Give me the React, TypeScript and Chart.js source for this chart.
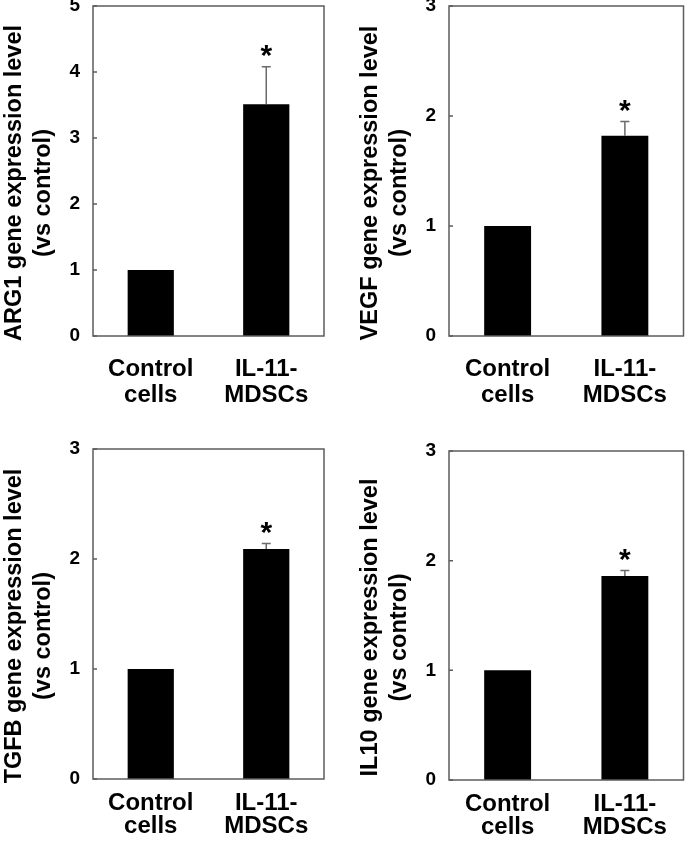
import React, { useEffect, useRef } from "react";
import { Chart, registerables } from "chart.js";

Chart.register(...registerables);

// ---- data ----
const categories = [["Control", "cells"], ["IL-11-", "MDSCs"]];

const arg1Values = [1.0, 3.51];
const arg1Errors = [0, 0.57];
const vegfValues = [1.0, 1.82];
const vegfErrors = [0, 0.13];
const tgfbValues = [1.0, 2.09];
const tgfbErrors = [0, 0.05];
const il10Values = [1.0, 1.86];
const il10Errors = [0, 0.05];

const significance = ["", "*"];

const arg1Title = ["ARG1 gene expression level", "(vs control)"];
const vegfTitle = ["VEGF gene expression level", "(vs control)"];
const tgfbTitle = ["TGFB gene expression level", "(vs control)"];
const il10Title = ["IL10 gene expression level", "(vs control)"];

const arg1Max = 5;
const otherMax = 3;

const FONT = "'Liberation Sans', Arial, Helvetica, sans-serif";

const decorPlugin = {
  id: "decor",
  afterDatasetsDraw(chart: any, _args: any, opts: any) {
    const { ctx, chartArea: ca } = chart;
    const y = chart.scales.y;
    const meta = chart.getDatasetMeta(0);
    const values = chart.data.datasets[0].data as number[];
    const errors: number[] = opts.errors || [];
    const marks: string[] = opts.marks || [];
    ctx.save();
    meta.data.forEach((bar: any, i: number) => {
      const v = values[i];
      const e = errors[i] || 0;
      const yBar = y.getPixelForValue(v);
      const yTop = y.getPixelForValue(v + e);
      if (e > 0) {
        ctx.strokeStyle = "#6a6a6a";
        ctx.lineWidth = 1.5;
        ctx.beginPath();
        ctx.moveTo(bar.x, yBar);
        ctx.lineTo(bar.x, yTop);
        ctx.moveTo(bar.x - 4.5, yTop);
        ctx.lineTo(bar.x + 4.5, yTop);
        ctx.stroke();
      }
      if (marks[i]) {
        ctx.fillStyle = "#000";
        ctx.font = `bold 30px ${FONT}`;
        ctx.textAlign = "center";
        ctx.textBaseline = "alphabetic";
        const m = ctx.measureText(marks[i]);
        const asc = m.actualBoundingBoxAscent || 0;
        const desc = m.actualBoundingBoxDescent || 0;
        const cy = yTop - 16;
        ctx.fillText(marks[i], bar.x, cy + (asc - desc) / 2);
      }
    });
    // box
    ctx.strokeStyle = "#5c5c5c";
    ctx.lineWidth = 1.5;
    ctx.strokeRect(ca.left, ca.top, ca.right - ca.left, ca.bottom - ca.top);
    // inward ticks
    ctx.beginPath();
    y.ticks.forEach((t: any) => {
      const py = y.getPixelForValue(t.value);
      ctx.moveTo(ca.left, py);
      ctx.lineTo(ca.left + 4, py);
    });
    ctx.stroke();
    // y title
    const title: string[] = opts.title || [];
    ctx.fillStyle = "#000";
    ctx.font = `bold 23.5px ${FONT}`;
    ctx.textAlign = "center";
    ctx.textBaseline = "middle";
    const cyMid = (ca.top + ca.bottom) / 2;
    const xs = [ca.left - 78, ca.left - 49];
    const dys = [12, 22];
    title.forEach((line, i) => {
      ctx.save();
      ctx.translate(xs[i], cyMid + dys[i]);
      ctx.rotate(-Math.PI / 2);
      ctx.fillText(line, 0, 0);
      ctx.restore();
    });
    ctx.restore();
  },
};

type Spec = {
  x: number;
  y: number;
  w: number;
  h: number;
  plotLeft: number;
  plotTop: number;
  plotRight: number;
  plotBottom: number;
  values: number[];
  errors: number[];
  title: string[];
  yMax: number;
  labelPad: number;
  labelLineHeight: number;
};

function Panel({ spec }: { spec: Spec }) {
  const ref = useRef<HTMLCanvasElement | null>(null);
  useEffect(() => {
    if (!ref.current) return;
    const chart = new Chart(ref.current, {
      type: "bar",
      data: {
        labels: categories,
        datasets: [
          {
            data: spec.values,
            backgroundColor: "#000",
            borderWidth: 0,
            barPercentage: 0.4,
            categoryPercentage: 1,
          },
        ],
      },
      options: {
        responsive: false,
        maintainAspectRatio: false,
        devicePixelRatio: 1,
        animation: false,
        layout: {
          padding: {
            left: 0,
            top: spec.plotTop,
            right: spec.w - spec.plotRight,
            bottom: 0,
          },
        },
        plugins: {
          legend: { display: false },
          tooltip: { enabled: false },
          decor: { errors: spec.errors, marks: significance, title: spec.title },
        } as any,
        scales: {
          x: {
            grid: { display: false, drawTicks: false },
            border: { display: false },
            ticks: {
              color: "#000",
              padding: spec.labelPad,
              maxRotation: 0,
              autoSkip: false,
              font: { family: FONT, size: 24, weight: "bold", lineHeight: spec.labelLineHeight },
            },
            afterFit: (s: any) => {
              s.height = spec.h - spec.plotBottom;
              s.paddingLeft = 0;
              s.paddingRight = 0;
            },
          },
          y: {
            min: 0,
            max: spec.yMax,
            grid: { display: false, drawTicks: false },
            border: { display: false },
            ticks: {
              stepSize: 1,
              color: "#000",
              padding: 13,
              font: { family: FONT, size: 19, weight: "bold" },
            },
            afterFit: (s: any) => {
              s.width = spec.plotLeft;
              s.paddingTop = 0;
              s.paddingBottom = 0;
            },
          },
        },
      },
      plugins: [decorPlugin],
    } as any);
    return () => chart.destroy();
  }, []);
  return (
    <div style={{ position: "absolute", left: spec.x, top: spec.y, width: spec.w, height: spec.h }}>
      <canvas
        ref={ref}
        width={spec.w}
        height={spec.h}
        style={{ display: "block", width: spec.w, height: spec.h }}
      />
    </div>
  );
}

const panels: Spec[] = [
  {
    x: 0, y: 0, w: 342, h: 420,
    plotLeft: 93, plotTop: 6, plotRight: 324, plotBottom: 336,
    values: arg1Values, errors: arg1Errors, title: arg1Title, yMax: arg1Max,
    labelPad: 20, labelLineHeight: 26 / 24,
  },
  {
    x: 342, y: 0, w: 343, h: 420,
    plotLeft: 107, plotTop: 6, plotRight: 341.5, plotBottom: 336,
    values: vegfValues, errors: vegfErrors, title: vegfTitle, yMax: otherMax,
    labelPad: 20, labelLineHeight: 26 / 24,
  },
  {
    x: 0, y: 420, w: 342, h: 423,
    plotLeft: 93, plotTop: 29, plotRight: 324, plotBottom: 359,
    values: tgfbValues, errors: tgfbErrors, title: tgfbTitle, yMax: otherMax,
    labelPad: 12.5, labelLineHeight: 23 / 24,
  },
  {
    x: 342, y: 420, w: 343, h: 423,
    plotLeft: 107, plotTop: 31, plotRight: 341.5, plotBottom: 360,
    values: il10Values, errors: il10Errors, title: il10Title, yMax: otherMax,
    labelPad: 12.5, labelLineHeight: 23 / 24,
  },
];

export default function App() {
  return (
    <div style={{ position: "absolute", left: 0, top: 0, width: 685, height: 843, background: "#fff" }}>
      {panels.map((p, i) => (
        <Panel key={i} spec={p} />
      ))}
    </div>
  );
}
